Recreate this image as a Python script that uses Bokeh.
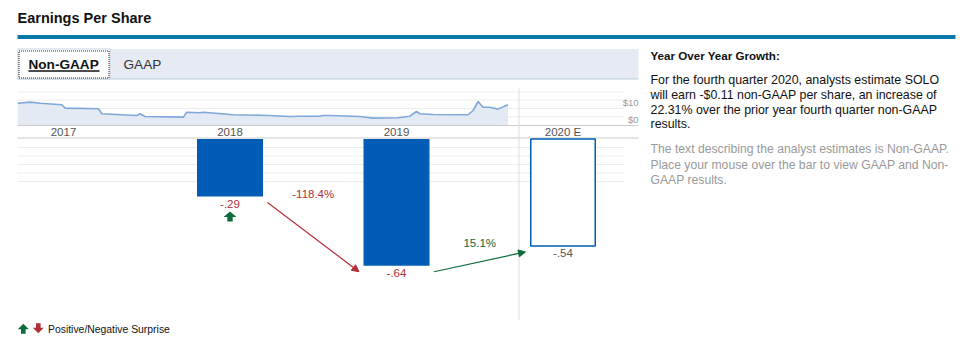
from bokeh.plotting import figure
from bokeh.models import Range1d, Arrow, NormalHead, ColumnDataSource
from bokeh.embed import file_html
from bokeh.resources import INLINE
from bokeh.core.properties import value

# ---------------- data ----------------
years = [2017, 2018, 2019, 2020]
year_labels = ["2017", "2018", "2019", "2020 E"]
eps_years = [2018, 2019, 2020]
eps_values = [-0.29, -0.64, -0.54]
eps_labels = ["-.29", "-.64", "-.54"]
eps_estimate = [False, False, True]
surprise = ["up", None, None]
growth_labels = ["-118.4%", "15.1%"]
growth_up = [False, True]

spark_t = [2016.725, 2016.80, 2016.86, 2016.99, 2017.01, 2017.21, 2017.23, 2017.44,
           2017.46, 2017.49, 2017.72, 2017.74, 2017.82, 2017.84, 2018.02, 2018.23,
           2018.36, 2018.42, 2018.53, 2018.56, 2018.60, 2018.78, 2018.86, 2019.01,
           2019.08, 2019.12, 2019.14, 2019.22, 2019.43, 2019.46, 2019.49, 2019.52,
           2019.56, 2019.61, 2019.67]
spark_price = [9.3, 9.9, 9.3, 8.4, 6.4, 6.0, 3.1, 2.1,
               3.1, 1.5, 1.1, 4.0, 3.7, 4.0, 2.5, 2.1,
               1.5, 1.65, 1.65, 2.05, 2.05, 1.5, 0.5, 0.7,
               1.65, 4.4, 3.1, 2.65, 2.5, 5.0, 10.3, 6.9,
               6.9, 5.8, 8.4]
price_ticks = [10, 0]
price_tick_labels = ["$10", "$0"]

title = "Earnings Per Share"
tabs = ["Non-GAAP", "GAAP"]
side_title = "Year Over Year Growth:"
side_text = ["For the fourth quarter 2020, analysts estimate SOLO",
             "will earn -$0.11 non-GAAP per share, an increase of",
             "22.31% over the prior year fourth quarter non-GAAP",
             "results."]
side_note = ["The text describing the analyst estimates is Non-GAAP.",
             "Place your mouse over the bar to view GAAP and Non-",
             "GAAP results."]
legend_text = "Positive/Negative Surprise"

# ---------------- layout ----------------
W, H = 958, 348
FONT = value("Liberation Sans")
BLUE = "#005cb4"
RED = "#b22e38"
GREEN = "#0d6b3c"

# main ranges are page pixels (y downward)
p = figure(width=W, height=H, x_range=Range1d(0, W), y_range=Range1d(H, 0),
           output_backend="svg", toolbar_location=None, min_border=0)
p.axis.visible = False
p.grid.visible = False
p.outline_line_color = None
p.background_fill_color = "white"

# year scale: year 2017 at px 63, 166.5 px per year
X0, DX = 63.0, 166.5
p.extra_x_ranges = {"yr": Range1d(2017 + (0 - X0) / DX, 2017 + (W - X0) / DX)}
# eps scale: 0 at px 138.5, 198 px per unit
Y0, K = 138.5, 198.0
# price scale: $0 at px 118.5, 1.7 px per $
P0, PK = 118.5, 1.7
p.extra_y_ranges = {"eps": Range1d((Y0 - H) / K, Y0 / K),
                    "price": Range1d((P0 - H) / PK, P0 / PK)}

def px_x(n):
    return n / DX

def px_y(n):
    return n / K

# ---- header ----
p.text(x=[17], y=[17], text=[title], text_font=FONT, text_font_size="14.5px",
       text_font_style="bold", text_color="#111", text_baseline="middle")
p.quad(left=[17], right=[955], top=[34.5], bottom=[38.5], fill_color="#087aa9", line_color=None)

# ---- tabs ----
p.quad(left=[17], right=[638], top=[48.5], bottom=[78.5], fill_color="#e6ebf3", line_color=None)
p.segment(x0=[17], y0=[78.5], x1=[638], y1=[78.5], line_color="#b9cadb", line_width=1)
p.quad(left=[17.5], right=[109.5], top=[48.5], bottom=[78.5], fill_color="white",
       line_color="#c5d3e2", line_width=1)
p.quad(left=[18.5], right=[108.5], top=[50.5], bottom=[77.5], fill_color=None,
       line_color="#222", line_width=1, line_dash="1 1")
p.text(x=[28], y=[63.5], text=[tabs[0]], text_font=FONT, text_font_size="13.6px",
       text_font_style="bold", text_color="#111", text_baseline="middle")
p.segment(x0=[28], y0=[70.5], x1=[99], y1=[70.5], line_color="#111", line_width=1.5)
p.text(x=[123], y=[63.5], text=[tabs[1]], text_font=FONT, text_font_size="13.6px",
       text_color="#333", text_baseline="middle")

# ---- grid lines ----
grid_y = [91.5, 99.5, 108, 116.3, 147, 155.5, 164, 172.5, 181]
p.segment(x0=[17] * len(grid_y), y0=grid_y, x1=[624] * len(grid_y), y1=grid_y,
          line_color="#ececec", line_width=1)

# ---- sparkline ----
base = (P0 - 125) / PK
p.varea(x=spark_t, y1=[base] * len(spark_t), y2=spark_price, fill_color="#e3eaf4",
        x_range_name="yr", y_range_name="price")
p.line(x=spark_t, y=spark_price, line_color="#7ea8d9", line_width=1.6,
       x_range_name="yr", y_range_name="price")
p.text(x=[638] * len(price_ticks), y=price_ticks, text=price_tick_labels, text_font=FONT,
       text_font_size="9.5px", text_color="#999", text_align="right", text_baseline="middle",
       y_range_name="price")

# ---- year band ----
p.segment(x0=[17, 17], y0=[125, 137.5], x1=[638, 638], y1=[125, 137.5],
          line_color="#cccccc", line_width=1.2)
p.text(x=years, y=[131.5] * len(years), text=year_labels, text_font=FONT, text_font_size="11.5px",
       text_color="#555", text_align="center", text_baseline="middle", x_range_name="yr")

# divider between actual and estimate
p.segment(x0=[518.5], y0=[88], x1=[518.5], y1=[320], line_color="#dddddd", line_width=1)

# ---- bars ----
bw = 66 / DX
act_x = [x for x, e in zip(eps_years, eps_estimate) if not e]
act_v = [v for v, e in zip(eps_values, eps_estimate) if not e]
est_x = [x for x, e in zip(eps_years, eps_estimate) if e]
est_v = [v for v, e in zip(eps_values, eps_estimate) if e]
p.vbar(x=act_x, top=0, bottom=act_v, width=bw, fill_color=BLUE, line_color=None,
       x_range_name="yr", y_range_name="eps")
p.vbar(x=est_x, top=0, bottom=est_v, width=bw - px_x(1.5), fill_color="white", line_color=BLUE,
       line_width=1.5, x_range_name="yr", y_range_name="eps")

lab_col = [("#555" if e else RED) for e in eps_estimate]
p.text(x=eps_years, y=[v - px_y(7.5) for v in eps_values], text=eps_labels, text_font=FONT,
       text_font_size="11.5px", text_color=lab_col, text_align="center", text_baseline="middle",
       x_range_name="yr", y_range_name="eps")

# surprise icon (arrow shape)
def arrow_shape(cx, cy, up, sx, sy):
    # offsets in pixels, y downward for the "up" arrow
    pts = [(0, 0), (6.5, 5.5), (2.7, 5.5), (2.7, 10), (-2.7, 10), (-2.7, 5.5), (-6.5, 5.5)]
    if not up:
        pts = [(a, 10 - b) for a, b in pts]
    return [cx + sx(a) for a, b in pts], [cy + sy(b) for a, b in pts]

xs, ys, cs = [], [], []
for x, v, s in zip(eps_years, eps_values, surprise):
    if s is None:
        continue
    ax, ay = arrow_shape(x, v - px_y(15), s == "up", px_x, lambda b: -px_y(b))
    xs.append(ax); ys.append(ay); cs.append(GREEN if s == "up" else RED)
p.patches(xs=xs, ys=ys, fill_color=cs, line_color=None, x_range_name="yr", y_range_name="eps")

# growth arrows
for i, (lab, up) in enumerate(zip(growth_labels, growth_up)):
    xa, va = eps_years[i], eps_values[i]
    xb, vb = eps_years[i + 1], eps_values[i + 1]
    col = GREEN if up else RED
    src = ColumnDataSource(dict(x0=[xa + bw / 2 + px_x(4.5)], y0=[va - px_y(6)],
                                x1=[xb - bw / 2 - px_x(4.5)], y1=[vb - px_y(6)]))
    p.add_layout(Arrow(end=NormalHead(size=7, fill_color=col, line_color=col),
                       x_start="x0", y_start="y0", x_end="x1", y_end="y1", source=src,
                       line_color=col, line_width=1.2, x_range_name="yr", y_range_name="eps"))
    p.text(x=[(xa + xb) / 2], y=[max(va, vb) + px_y(2.5)], text=[lab], text_font=FONT,
           text_font_size="11.5px", text_color=col, text_align="center", text_baseline="middle",
           x_range_name="yr", y_range_name="eps")

# ---- legend ----
gx, gy = arrow_shape(22.8, 323.3, True, lambda a: a * 0.85, lambda b: b)
rx, ry = arrow_shape(37.8, 322.7, False, lambda a: a * 0.85, lambda b: b)
p.patches(xs=[gx, rx], ys=[gy, ry], fill_color=[GREEN, RED], line_color=None)
p.text(x=[47.5], y=[328.5], text=[legend_text], text_font=FONT, text_font_size="10.4px",
       text_color="#111", text_baseline="middle")

# ---- side panel ----
p.text(x=[650], y=[55], text=[side_title], text_font=FONT, text_font_size="11.6px",
       text_font_style="bold", text_color="#111", text_baseline="middle")
p.text(x=[650] * len(side_text), y=[79.5, 94.5, 109, 123.5], text=side_text, text_font=FONT,
       text_font_size="12.4px", text_color="#111", text_baseline="middle")
p.text(x=[650] * len(side_note), y=[148.5, 164, 179], text=side_note, text_font=FONT,
       text_font_size="12.2px", text_color="#999", text_baseline="middle")

open("out.html", "w").write(file_html(p, INLINE))
